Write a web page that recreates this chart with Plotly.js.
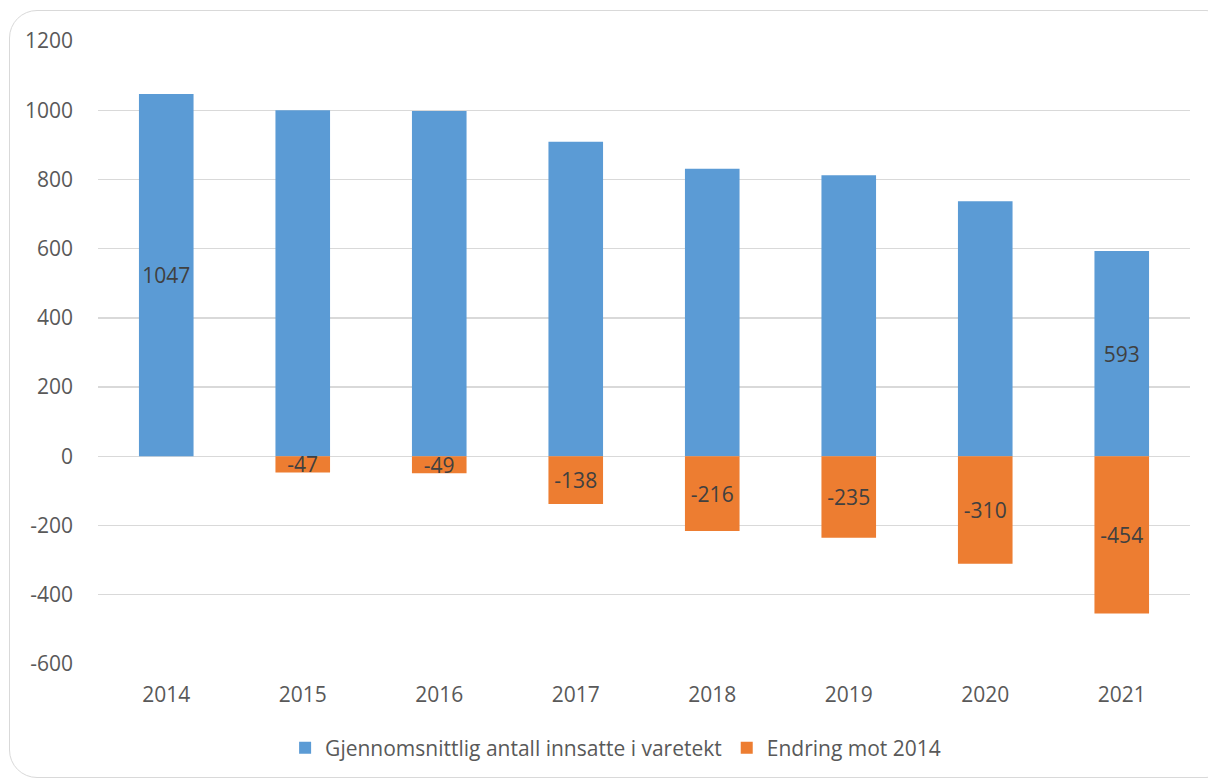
<!DOCTYPE html>
<html><head><meta charset="utf-8">
<script src="https://cdn.plot.ly/plotly-3.0.1.min.js"></script>
<style>
html,body{margin:0;padding:0;background:#fff;overflow:hidden}
#chart{width:1208px;height:782px}
#frame{position:absolute;left:9px;top:10px;width:1225px;height:768px;border:1.5px solid #d9d9d9;border-radius:28px;pointer-events:none;box-sizing:border-box}
</style></head>
<body>
<div id="chart"></div>
<div id="frame"></div>
<script>
const years = ['2014','2015','2016','2017','2018','2019','2020','2021'];
const avgInmates = [1047, 1000, 998, 909, 831, 812, 737, 593];
const avgLabels = ['1047', '', '', '', '', '', '', '593'];
const change = [0, -47, -49, -138, -216, -235, -310, -454];
const changeLabels = ['', '-47', '-49', '-138', '-216', '-235', '-310', '-454'];

const font = '"Open Sans", "Noto Sans", sans-serif';
const traces = [
  {type:'bar', name:'Gjennomsnittlig antall innsatte i varetekt', x:years, y:avgInmates,
   text:avgLabels, textposition:'inside', insidetextanchor:'middle', constraintext:'none',
   textfont:{color:'#404040', size:21, family:font}, marker:{color:'#5B9BD5'}, hoverinfo:'x+y'},
  {type:'bar', name:'Endring mot 2014', x:years, y:change,
   text:changeLabels, textposition:'inside', insidetextanchor:'middle', constraintext:'none',
   textfont:{color:'#404040', size:21, family:font}, marker:{color:'#ED7D31'}, hoverinfo:'x+y'}
];
const layout = {
  width:1208, height:782,
  margin:{l:98, r:18, t:41, b:118, autoexpand:false},
  barmode:'relative', bargap:0.6,
  paper_bgcolor:'rgba(0,0,0,0)', plot_bgcolor:'rgba(0,0,0,0)',
  font:{family:font, color:'#595959', size:21},
  xaxis:{type:'category', showgrid:false, showline:false, ticks:'', tickfont:{size:21, color:'#595959'}, ticklabelstandoff:16, automargin:false},
  yaxis:{range:[-600,1200], tickvals:[-600,-400,-200,0,200,400,600,800,1000,1200], ticktext:['-600','-400','-200','0','200','400','600','800','1000','1200'],
         showgrid:true, gridcolor:'#d9d9d9', gridwidth:1.3, zeroline:true, zerolinecolor:'#d9d9d9', zerolinewidth:1.3,
         tickfont:{size:21, color:'#595959'}, ticklabelstandoff:24, automargin:false},
  legend:{orientation:'h', x:0.474, xanchor:'center', y:-0.135, yanchor:'middle', font:{size:21, color:'#595959'}, itemwidth:20, tracegroupgap:0},
  showlegend:true
};
Plotly.newPlot('chart', traces, layout, {displayModeBar:false, staticPlot:true});
</script>
</body></html>
